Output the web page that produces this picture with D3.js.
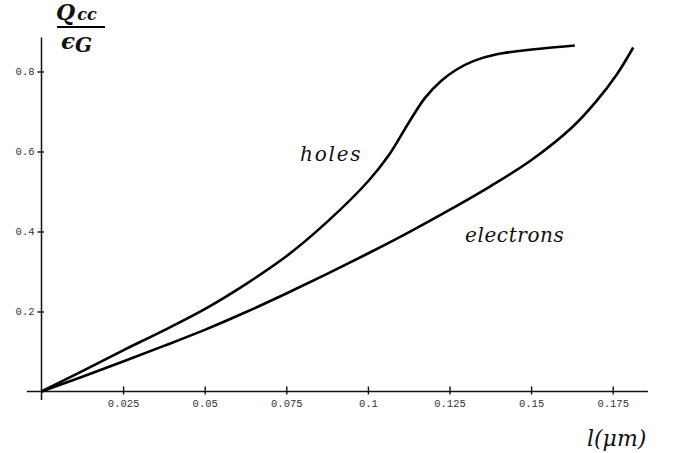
<!DOCTYPE html>
<html>
<head>
<meta charset="utf-8">
<script src="https://cdn.jsdelivr.net/npm/d3@7"></script>
<style>
  body { margin: 0; background: #fff; }
  .tick text { font-family: "Liberation Mono", monospace; font-size: 10.5px; fill: #333; }
  .lbl { font-family: "DejaVu Serif", serif; font-style: italic; fill: #111; }
</style>
</head>
<body>
<div id="chart"></div>
<script>
// Q_cc / eps_G against l (um)
var holesL = [0, 0.0125, 0.025, 0.0375, 0.05, 0.0625, 0.075, 0.0875, 0.1, 0.1065, 0.1125, 0.1175, 0.1225, 0.1272, 0.1323, 0.1395, 0.1527, 0.1634];
var holesQ = [0, 0.051, 0.103, 0.153, 0.206, 0.268, 0.338, 0.424, 0.525, 0.592, 0.672, 0.734, 0.777, 0.805, 0.826, 0.843, 0.857, 0.865];

var electronsL = [0, 0.0125, 0.025, 0.0375, 0.05, 0.0625, 0.075, 0.0875, 0.1, 0.1125, 0.125, 0.1375, 0.15, 0.1625, 0.17, 0.1762, 0.1813];
var electronsQ = [0, 0.037, 0.075, 0.114, 0.154, 0.198, 0.245, 0.294, 0.345, 0.398, 0.454, 0.513, 0.578, 0.660, 0.726, 0.792, 0.860];

var xTicks = [0.025, 0.05, 0.075, 0.1, 0.125, 0.15, 0.175];
var xTickLabels = ["0.025", "0.05", "0.075", "0.1", "0.125", "0.15", "0.175"];
var yTicks = [0.2, 0.4, 0.6, 0.8];
var yTickLabels = ["0.2", "0.4", "0.6", "0.8"];

var width = 675, height = 453;

var svg = d3.select("#chart").append("svg")
	.attr("width", width)
	.attr("height", height);

// scales
var x = d3.scaleLinear().domain([0, 0.175]).range([41.5, 612.7]);
var y = d3.scaleLinear().domain([0, 0.8]).range([391.5, 71.5]);

// x axis
var xAxis = svg.append("g")
	.attr("transform", "translate(0," + y(0) + ")")
	.call(d3.axisBottom(x)
		.tickValues(xTicks)
		.tickFormat(function(d, i) { return xTickLabels[i]; })
		.tickSizeOuter(0));
xAxis.select(".domain").remove();
xAxis.selectAll(".tick line").attr("y1", -5).attr("y2", 3).attr("stroke", "#111").attr("stroke-width", 1.4);
xAxis.selectAll(".tick text").attr("y", 8);
xAxis.append("line")
	.attr("x1", x(-0.0045)).attr("x2", x(0.1858))
	.attr("stroke", "#111").attr("stroke-width", 1.5);

// y axis
var yAxis = svg.append("g")
	.attr("transform", "translate(" + x(0) + ",0)")
	.call(d3.axisLeft(y)
		.tickValues(yTicks)
		.tickFormat(function(d, i) { return yTickLabels[i]; })
		.tickSizeOuter(0));
yAxis.select(".domain").remove();
yAxis.selectAll(".tick line").attr("x1", -4).attr("x2", 2.5).attr("stroke", "#111").attr("stroke-width", 1.4);
yAxis.selectAll(".tick text").attr("x", -7);
yAxis.append("line")
	.attr("y1", y(-0.021)).attr("y2", y(0.885))
	.attr("stroke", "#111").attr("stroke-width", 1.5);

// curves
var line = d3.line()
	.x(function(d) { return x(d[0]); })
	.y(function(d) { return y(d[1]); })
	.curve(d3.curveCatmullRom.alpha(0.5));

svg.append("path")
	.datum(d3.zip(holesL, holesQ))
	.attr("d", line)
	.attr("fill", "none").attr("stroke", "#000").attr("stroke-width", 2.6);

svg.append("path")
	.datum(d3.zip(electronsL, electronsQ))
	.attr("d", line)
	.attr("fill", "none").attr("stroke", "#000").attr("stroke-width", 2.6);

// curve labels
svg.append("text").attr("class", "lbl")
	.attr("x", 300).attr("y", 161)
	.attr("font-size", 20).attr("letter-spacing", 1.8)
	.text("holes");
svg.append("text").attr("class", "lbl")
	.attr("x", 465).attr("y", 242)
	.attr("font-size", 20).attr("letter-spacing", 0.6)
	.text("electrons");

// y label as a fraction
var yl = svg.append("g");
yl.append("text").attr("class", "lbl")
	.attr("x", 56).attr("y", 20)
	.attr("font-size", 22).attr("font-weight", "bold")
	.text("Q")
  .append("tspan")
	.attr("font-size", 16).attr("dx", 2).attr("dy", 0)
	.text("cc");
yl.append("line")
	.attr("x1", 57).attr("x2", 105).attr("y1", 27).attr("y2", 27)
	.attr("stroke", "#000").attr("stroke-width", 2);
yl.append("text").attr("class", "lbl")
	.attr("x", 61).attr("y", 49)
	.attr("font-size", 23).attr("font-weight", "bold")
	.text("\u03f5")
  .append("tspan")
	.attr("font-size", 20).attr("dy", 3)
	.text("G");

// x label
svg.append("text").attr("class", "lbl")
	.attr("x", 587).attr("y", 446)
	.attr("font-size", 22)
	.text("l(\u03bcm)");
</script>
</body>
</html>
